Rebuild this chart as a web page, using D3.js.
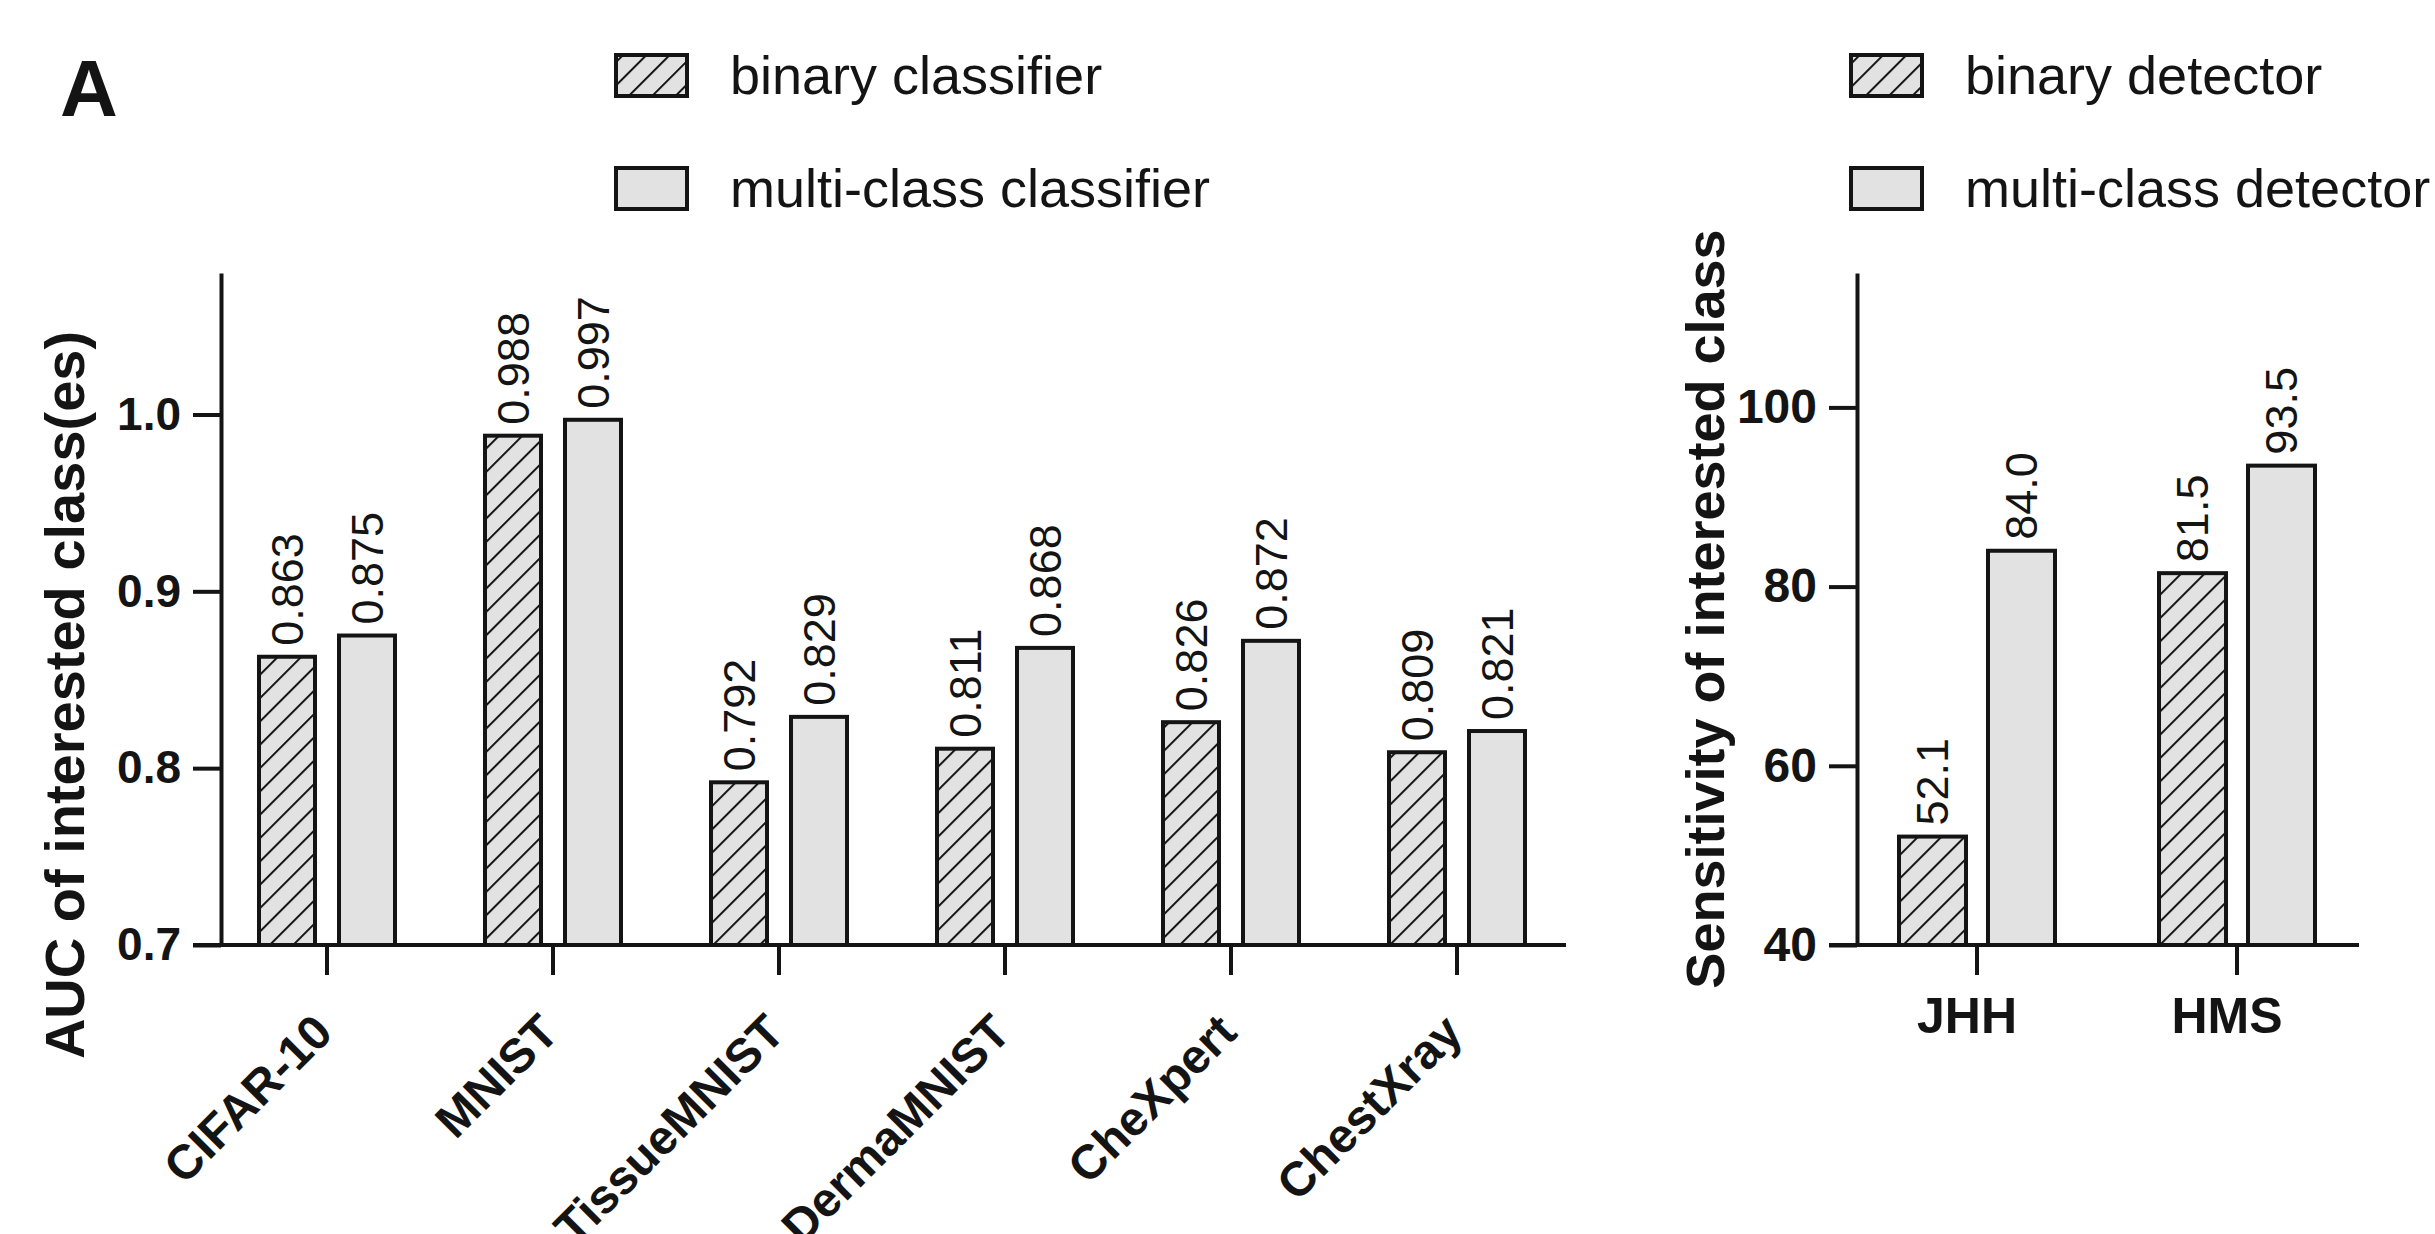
<!DOCTYPE html>
<html>
<head>
<meta charset="utf-8">
<script src="https://cdn.jsdelivr.net/npm/d3@7"></script>
<style>
  body { margin: 0; background: #fff; }
  svg { display: block; font-family: "Liberation Sans", Arial, sans-serif; }
</style>
</head>
<body>
<svg id="chart" width="2435" height="1234"></svg>
<script>
// panel A, left: AUC per dataset
const datasets = ['CIFAR-10', 'MNIST', 'TissueMNIST', 'DermaMNIST', 'CheXpert', 'ChestXray']
const binaryAUC = [0.863, 0.988, 0.792, 0.811, 0.826, 0.809]
const multiAUC = [0.875, 0.997, 0.829, 0.868, 0.872, 0.821]
const aucTicks = [0.7, 0.8, 0.9, 1.0]

// panel A, right: sensitivity per site
const sites = ['JHH', 'HMS']
const binarySens = [52.1, 81.5]
const multiSens = [84.0, 93.5]
const sensTicks = [40, 60, 80, 100]

const leftLegend = ['binary classifier', 'multi-class classifier']
const rightLegend = ['binary detector', 'multi-class detector']

const fillGray = '#e2e2e2'
const ink = '#141414'

const svg = d3.select('#chart')

// hatch pattern for the binary bars
const defs = svg.append('defs')
const pat = defs.append('pattern')
  .attr('id', 'hatch')
  .attr('patternUnits', 'userSpaceOnUse')
  .attr('width', 16.5)
  .attr('height', 16.5)
  .attr('patternTransform', 'rotate(45)')
pat.append('rect').attr('width', 16.5).attr('height', 16.5).attr('fill', fillGray)
pat.append('line')
  .attr('x1', 0).attr('y1', 0).attr('x2', 0).attr('y2', 16.5)
  .attr('stroke', ink).attr('stroke-width', 4)

function drawPanel(opts) {
  const g = svg.append('g')
  const x = d3.scaleBand().domain(opts.cats).range(opts.xRange)
  const sub = d3.scaleBand().domain(['b', 'm']).range(opts.subRange).paddingInner(opts.subPad)
  const y = d3.scaleLinear().domain(opts.yDomain).range([945, 273])
  const base = y(opts.yDomain[0])

  const rows = opts.cats.map((c, i) => ({ cat: c, b: opts.bin[i], m: opts.multi[i] }))
  const bars = []
  rows.forEach(r => {
    bars.push({ cat: r.cat, key: 'b', v: r.b })
    bars.push({ cat: r.cat, key: 'm', v: r.m })
  })

  g.selectAll('rect.bar')
    .data(bars)
    .join('rect')
    .attr('class', 'bar')
    .attr('x', d => x(d.cat) + x.bandwidth() / 2 + sub(d.key))
    .attr('width', sub.bandwidth())
    .attr('y', d => y(d.v))
    .attr('height', d => base - y(d.v))
    .attr('fill', d => d.key === 'b' ? 'url(#hatch)' : fillGray)
    .attr('stroke', ink)
    .attr('stroke-width', 4)

  g.selectAll('text.val')
    .data(bars)
    .join('text')
    .attr('class', 'val')
    .attr('transform', d => {
      const cx = x(d.cat) + x.bandwidth() / 2 + sub(d.key) + sub.bandwidth() / 2
      return `translate(${cx},${y(d.v) - 11}) rotate(-90)`
    })
    .attr('dy', '0.35em')
    .attr('font-size', opts.valSize)
    .attr('fill', ink)
    .text(d => d3.format(opts.fmt)(d.v))

  // y axis
  const yAxis = g.append('g')
    .attr('transform', `translate(${opts.axisX},0)`)
    .call(d3.axisLeft(y).tickValues(opts.ticks).tickFormat(d3.format(opts.tickFmt))
      .tickSize(28).tickSizeOuter(0).tickPadding(12))
  yAxis.select('.domain').attr('stroke', ink).attr('stroke-width', 4)
  yAxis.selectAll('.tick line').attr('stroke', ink).attr('stroke-width', 4)
  yAxis.selectAll('.tick text')
    .attr('font-size', opts.tickSize).attr('font-weight', 'bold')
    .attr('font-family', '"Liberation Sans", Arial, sans-serif').attr('fill', ink)

  // x axis
  const xAxis = g.append('g')
    .attr('transform', `translate(0,${base})`)
    .call(d3.axisBottom(x).tickSize(30).tickSizeOuter(0).tickFormat(''))
  xAxis.select('.domain').remove()
  xAxis.selectAll('.tick line').attr('stroke', ink).attr('stroke-width', 4)
  g.append('line')
    .attr('x1', opts.axisX - 28).attr('x2', opts.axisEnd)
    .attr('y1', base).attr('y2', base)
    .attr('stroke', ink).attr('stroke-width', 4)

  // y title
  g.append('text')
    .attr('transform', `translate(${opts.titleX},${opts.titleY}) rotate(-90)`)
    .attr('text-anchor', 'middle')
    .attr('dy', '0.35em')
    .attr('font-size', opts.titleSize)
    .attr('font-weight', 'bold')
    .attr('fill', ink)
    .text(opts.title)

  // legend
  const lg = g.append('g')
  opts.legend.forEach((name, i) => {
    const ly = 55 + i * 113
    lg.append('rect')
      .attr('x', opts.legendX).attr('y', ly)
      .attr('width', 71).attr('height', 41)
      .attr('fill', i === 0 ? 'url(#hatch)' : fillGray)
      .attr('stroke', ink).attr('stroke-width', 4)
    lg.append('text')
      .attr('x', opts.legendX + 114).attr('y', ly + 20.5)
      .attr('dy', '0.35em')
      .attr('font-size', 54)
      .attr('fill', ink)
      .text(name)
  })

  return { g, x, base }
}

const left = drawPanel({
  cats: datasets, bin: binaryAUC, multi: multiAUC,
  xRange: [214, 1570], subRange: [-68, 68], subPad: 0.3,
  yDomain: [0.7, 1.08], ticks: aucTicks, tickFmt: '.1f', fmt: '.3f',
  axisX: 221, axisEnd: 1566, valSize: 45, tickSize: 46,
  title: 'AUC of interested class(es)', titleX: 64, titleY: 695, titleSize: 56,
  legend: leftLegend, legendX: 616
})

left.g.selectAll('text.cat')
  .data(datasets)
  .join('text')
  .attr('class', 'cat')
  .attr('transform', d => `translate(${left.x(d) + left.x.bandwidth() / 2 + 8},1035) rotate(-45)`)
  .attr('text-anchor', 'end')
  .attr('font-size', 48)
  .attr('font-weight', 'bold')
  .attr('fill', ink)
  .text(d => d)

const right = drawPanel({
  cats: sites, bin: binarySens, multi: multiSens,
  xRange: [1847, 2367], subRange: [-78, 78], subPad: 0.247,
  yDomain: [40, 115], ticks: sensTicks, tickFmt: 'd', fmt: '.1f',
  axisX: 1857, axisEnd: 2359, valSize: 45, tickSize: 48,
  title: 'Sensitivity of interested class', titleX: 1705, titleY: 609, titleSize: 54,
  legend: rightLegend, legendX: 1851
})

right.g.selectAll('text.cat')
  .data(sites)
  .join('text')
  .attr('class', 'cat')
  .attr('x', d => right.x(d) + right.x.bandwidth() / 2 - 10)
  .attr('y', 1033)
  .attr('text-anchor', 'middle')
  .attr('font-size', 50)
  .attr('font-weight', 'bold')
  .attr('fill', ink)
  .text(d => d)

// panel letter
svg.append('text')
  .attr('x', 60).attr('y', 116)
  .attr('font-size', 80)
  .attr('font-weight', 'bold')
  .attr('fill', ink)
  .text('A')
</script>
</body>
</html>
